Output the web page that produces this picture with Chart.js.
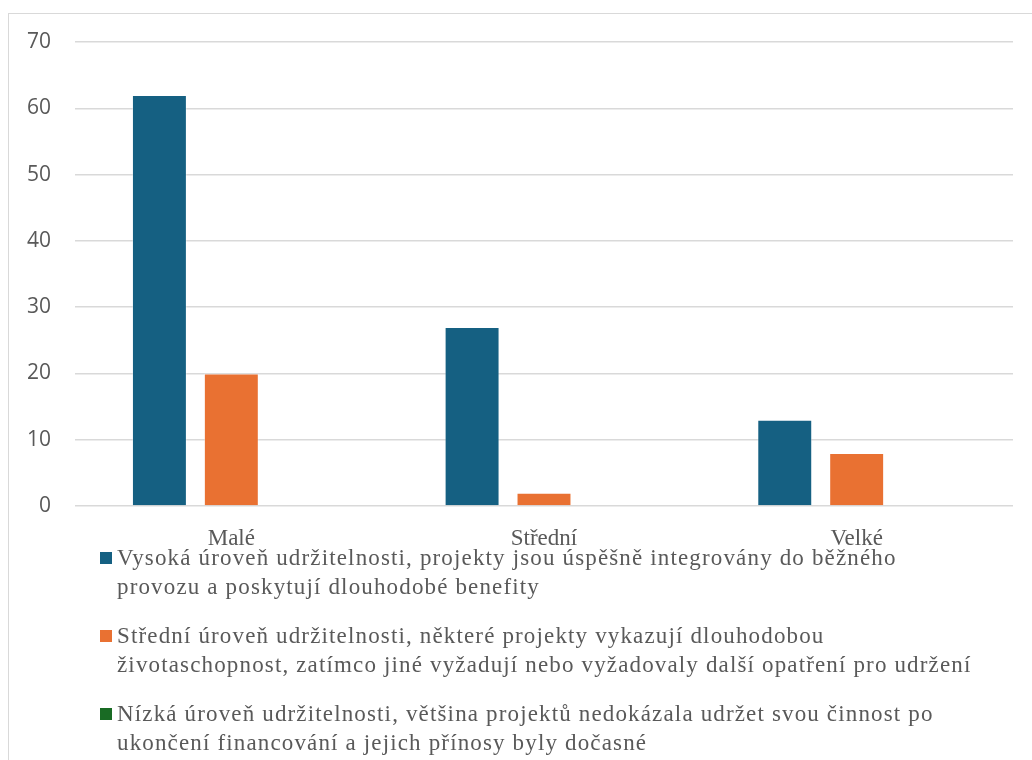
<!DOCTYPE html>
<html lang="cs">
<head>
<meta charset="utf-8">
<script src="https://cdn.jsdelivr.net/npm/chart.js@4/dist/chart.umd.min.js"></script>
<style>
  html, body { margin: 0; padding: 0; background: #fff; overflow: hidden; }
  body { width: 1032px; height: 760px; position: relative; }
  #frame {
    position: absolute; left: 8px; top: 13px; width: 1100px; height: 800px;
    border: 1px solid #d9d9d9; box-sizing: border-box;
  }
  #wrap { position: absolute; left: 0; top: 0; width: 1032px; height: 560px; }
  #legend {
    position: absolute; left: 100px; top: 543px; width: 920px;
    font-family: "Liberation Serif", "Times New Roman", serif;
    font-size: 23px; letter-spacing: 1.15px; color: #595959; line-height: 29px;
    white-space: nowrap;
  }
  .item { position: relative; padding-left: 17px; margin-bottom: 20px; }
  .box { position: absolute; left: 0; top: 9px; width: 12px; height: 12px; }
</style>
</head>
<body>
<div id="frame"></div>
<div id="wrap"><canvas id="chart"></canvas></div>
<div id="legend"></div>
<script>
// Velikost organizace
const categories = ['Malé', 'Střední', 'Velké'];

// Úroveň udržitelnosti projektů (počet)
const seriesNames = [
  ['Vysoká úroveň udržitelnosti, projekty jsou úspěšně integrovány do běžného',
   'provozu a poskytují dlouhodobé benefity'],
  ['Střední úroveň udržitelnosti, některé projekty vykazují dlouhodobou',
   'životaschopnost, zatímco jiné vyžadují nebo vyžadovaly další opatření pro udržení'],
  ['Nízká úroveň udržitelnosti, většina projektů nedokázala udržet svou činnost po',
   'ukončení financování a jejich přínosy byly dočasné']
];
const highValues = [62, 27, 13];
const mediumValues = [20, 2, 8];
const lowValues = [0, 0, 0];
const seriesColors = ['#156082', '#E97132', '#196B24'];
const yTicks = [0, 10, 20, 30, 40, 50, 60, 70];

const seriesValues = [highValues, mediumValues, lowValues];

const ctx = document.getElementById('chart').getContext('2d');
const chart = new Chart(ctx, {
  type: 'bar',
  data: {
    labels: categories,
    datasets: seriesValues.map((vals, i) => ({
      label: seriesNames[i].join(' '),
      data: vals,
      backgroundColor: seriesColors[i],
      borderColor: 'rgba(255,255,255,0.35)',
      borderWidth: 1,
      barPercentage: 0.764,
      categoryPercentage: 0.69
    }))
  },
  options: {
    responsive: true,
    maintainAspectRatio: false,
    animation: false,
    layout: { padding: { top: 42, right: 19, left: 0, bottom: 0 } },
    plugins: {
      legend: { display: false },
      tooltip: { enabled: false }
    },
    scales: {
      x: {
        grid: { display: false },
        border: { display: false },
        ticks: {
          color: '#595959',
          padding: 11,
          font: { family: '"Liberation Serif", "Times New Roman", serif', size: 23 }
        },
        afterFit(scale) { scale.height = 54; }
      },
      y: {
        min: 0,
        max: 70,
        afterBuildTicks(scale) { scale.ticks = yTicks.map(v => ({ value: v })); },
        grid: { color: '#d9d9d9', lineWidth: 1.5, drawTicks: false },
        border: { display: false },
        ticks: {
          color: '#595959',
          padding: 24,
          font: { family: '"Open Sans", sans-serif', size: 21 }
        },
        afterFit(scale) { scale.width = 75; }
      }
    }
  }
});

// legenda pod grafem, víceřádkové popisky
const legendEl = document.getElementById('legend');
chart.data.datasets.forEach((ds, i) => {
  const item = document.createElement('div');
  item.className = 'item';
  const box = document.createElement('span');
  box.className = 'box';
  box.style.background = ds.backgroundColor;
  item.appendChild(box);
  seriesNames[i].forEach(line => {
    const div = document.createElement('div');
    div.textContent = line;
    item.appendChild(div);
  });
  legendEl.appendChild(item);
});
</script>
</body>
</html>
